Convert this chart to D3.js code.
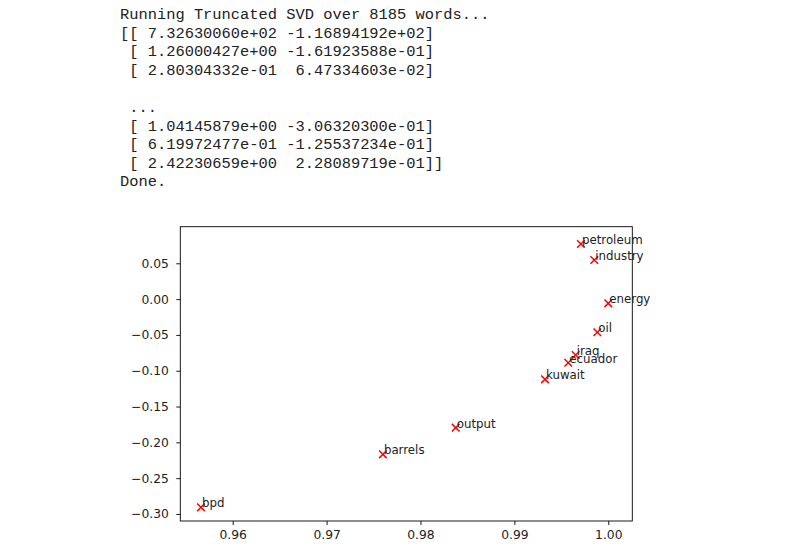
<!DOCTYPE html>
<html>
<head>
<meta charset="utf-8">
<script src="https://cdn.jsdelivr.net/npm/d3@7"></script>
<style>
  html, body { margin: 0; padding: 0; background: #fff; }
  svg { display: block; }
</style>
</head>
<body>
<svg id="chart" width="787" height="555"></svg>
<script>
// ---- data ----
const consoleLines = [
  "Running Truncated SVD over 8185 words...",
  "[[ 7.32630060e+02 -1.16894192e+02]",
  " [ 1.26000427e+00 -1.61923588e-01]",
  " [ 2.80304332e-01  6.47334603e-02]",
  "",
  " ...",
  " [ 1.04145879e+00 -3.06320300e-01]",
  " [ 6.19972477e-01 -1.25537234e-01]",
  " [ 2.42230659e+00  2.28089719e-01]]",
  "Done."
];
const words = ["petroleum", "industry", "energy", "oil", "iraq", "ecuador", "kuwait", "output", "barrels", "bpd"];
const xValues = [0.99709, 0.99851, 1.00000, 0.99883, 0.99653, 0.99574, 0.99326, 0.98375, 0.97600, 0.95662];
const yValues = [0.0769, 0.0546, -0.0059, -0.0463, -0.0780, -0.0888, -0.1120, -0.1795, -0.2167, -0.2907];
const xTicks = [0.96, 0.97, 0.98, 0.99, 1.00];
const yTicks = [-0.30, -0.25, -0.20, -0.15, -0.10, -0.05, 0.00, 0.05];
const xDomain = [0.95442, 1.00256];
const yDomain = [-0.3098, 0.1011];

(function () {
const svg = d3.select("#chart");

// ---- console text ----
const txt = svg.append("g")
  .attr("font-family", "'Liberation Mono', monospace")
  .attr("font-size", 15.4)
  .attr("fill", "#222");
txt.selectAll("text").data(consoleLines).join("text")
  .attr("x", 120)
  .attr("y", (d, i) => 19 + i * 18.6)
  .style("white-space", "pre")
  .text(d => d);

// ---- plot ----
const pL = 180.3, pR = 632.3, pT = 226.7, pB = 521;
const x = d3.scaleLinear().domain(xDomain).range([pL, pR]);
const y = d3.scaleLinear().domain(yDomain).range([pB, pT]);

const font = "'DejaVu Sans', sans-serif";
const fs = 12.3;

const xAxis = svg.append("g")
  .attr("transform", `translate(0,${pB})`)
  .call(d3.axisBottom(x).tickValues(xTicks).tickFormat(d3.format(".2f")).tickSize(4).tickPadding(5));
const yAxis = svg.append("g")
  .attr("transform", `translate(${pL},0)`)
  .call(d3.axisLeft(y).tickValues(yTicks).tickFormat(d3.format(".2f")).tickSize(4).tickPadding(7.5));
[xAxis, yAxis].forEach(a => {
  a.select(".domain").remove();
  a.selectAll("line").attr("stroke", "#000").attr("stroke-width", 0.9);
  a.selectAll("text").attr("font-family", font).attr("font-size", fs).attr("fill", "#222");
});

// frame
svg.append("rect")
  .attr("x", pL).attr("y", pT)
  .attr("width", pR - pL).attr("height", pB - pT)
  .attr("fill", "none").attr("stroke", "#000").attr("stroke-width", 0.9);

const pts = words.map((w, i) => ({ w, x: xValues[i], y: yValues[i] }));

// markers
const m = 3.8;
const mk = svg.append("g").attr("stroke", "red").attr("stroke-width", 1.5).attr("fill", "none");
const g = mk.selectAll("g").data(pts).join("g")
  .attr("transform", d => `translate(${x(d.x)},${y(d.y)})`);
g.append("path").attr("d", `M${-m},${-m}L${m},${m}M${-m},${m}L${m},${-m}`);

// labels
svg.append("g").selectAll("text").data(pts).join("text")
  .attr("x", d => x(d.x) + 1)
  .attr("y", d => y(d.y))
  .attr("font-family", font)
  .attr("font-size", 11.8)
  .attr("fill", "#222")
  .text(d => d.w);
})();
</script>
</body>
</html>
